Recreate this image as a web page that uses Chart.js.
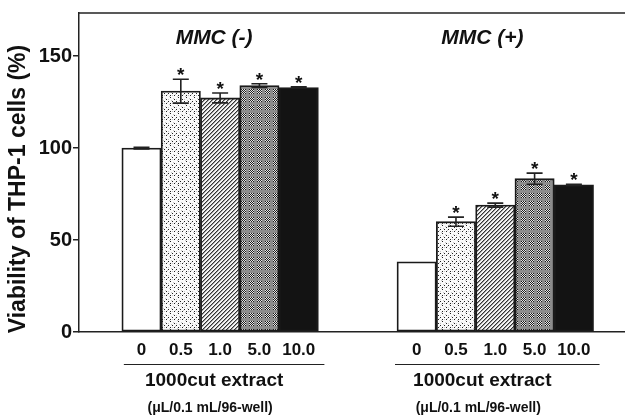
<!DOCTYPE html>
<html>
<head>
<meta charset="utf-8">
<script src="https://cdn.jsdelivr.net/npm/chart.js@4/dist/chart.umd.min.js"></script>
<style>
  html, body { margin: 0; padding: 0; background: #fff; }
  #wrap { width: 625px; height: 416px; }
</style>
</head>
<body>
<div id="wrap"><canvas id="myChart" width="625" height="416"></canvas></div>
<script>
'use strict';

// data
let doses = ['0', '0.5', '1.0', '5.0', '10.0'];
let groupNames = ['MMC (-)', 'MMC (+)'];
let viabilityMinus = [100, 131, 127.3, 134, 133];
let errorMinus = [0.5, 6.5, 2.7, 1, 0.3];
let viabilityPlus = [38.2, 60, 69, 83.4, 80];
let errorPlus = [0, 2.5, 1.1, 3, 0.3];
let starMinus = [false, true, true, true, true];
let starPlus = [false, true, true, true, true];
let yTicks = [0, 50, 100, 150];
let yTitle = 'Viability of THP-1 cells (%)';

let groupGap = 7;
let fontFam = 'Arial, "Liberation Sans", Helvetica, sans-serif';

function makePattern(kind) {
    let c = document.createElement('canvas');
    let g = c.getContext('2d');
    if (kind === 'dots') {
        c.width = 8; c.height = 8;
        g.fillStyle = '#fafafa'; g.fillRect(0, 0, 8, 8);
        g.fillStyle = '#c8c8c8';
        [[1, 0], [5, 2], [3, 4], [7, 6], [0, 3], [4, 7]].forEach(p => g.fillRect(p[0], p[1], 1, 1));
        g.fillStyle = '#222';
        [[2, 1], [6, 3], [0, 5], [4, 5], [2, 7], [6, 7]].forEach(p => g.fillRect(p[0], p[1], 1, 1));
    } else if (kind === 'hatch') {
        c.width = 4; c.height = 4;
        g.fillStyle = '#f4f4f4'; g.fillRect(0, 0, 4, 4);
        for (let i = 0; i < 4; i++) {
            g.fillStyle = '#333';
            g.fillRect(3 - i, i, 1, 1);
            g.fillStyle = '#999';
            g.fillRect((4 - i) % 4, i, 1, 1);
        }
    } else {
        c.width = 8; c.height = 8;
        g.fillStyle = '#8c8c8c'; g.fillRect(0, 0, 8, 8);
        for (let x = 1; x < 6; x++) {
            for (let y = 1; y < 6; y++) {
                g.fillStyle = (x + y) % 2 === 0 ? '#1c1c1c' : '#e8e8e8';
                g.fillRect(x, y, 1, 1);
            }
        }
    }
    return g.createPattern(c, 'repeat');
}

let fills = ['#ffffff', makePattern('dots'), makePattern('hatch'), makePattern('check'), '#131313'];

// build bar rows from the arrays
let points = [];
let colors = [];
let errs = [];
let stars = [];
[viabilityMinus, viabilityPlus].forEach(function (vals, g) {
    vals.forEach(function (v, i) {
        points.push({ x: i + g * groupGap, y: v });
        colors.push(fills[i]);
        errs.push(g === 0 ? errorMinus[i] : errorPlus[i]);
        stars.push(g === 0 ? starMinus[i] : starPlus[i]);
    });
});
let tickPos = points.map(p => p.x);

let extras = {
    id: 'extras',
    afterDatasetsDraw(chart) {
        let ctx = chart.ctx;
        let xs = chart.scales.x;
        let ys = chart.scales.y;
        let area = chart.chartArea;
        ctx.save();
        ctx.strokeStyle = '#222';
        ctx.fillStyle = '#111';
        // top frame line
        ctx.lineWidth = 1.5;
        ctx.beginPath();
        ctx.moveTo(area.left, area.top);
        ctx.lineTo(chart.width, area.top);
        ctx.stroke();
        // y axis title
        ctx.save();
        ctx.translate(19, 189);
        ctx.rotate(-Math.PI / 2);
        ctx.font = 'bold 23px ' + fontFam;
        ctx.textAlign = 'center';
        ctx.textBaseline = 'middle';
        ctx.fillText(yTitle, 0, 0);
        ctx.restore();
        // error bars and stars
        ctx.lineWidth = 1.6;
        points.forEach(function (p, k) {
            let cx = xs.getPixelForValue(p.x);
            let top = ys.getPixelForValue(p.y + errs[k]);
            let bot = ys.getPixelForValue(p.y - errs[k]);
            if (errs[k] > 0) {
                ctx.beginPath();
                ctx.moveTo(cx, top); ctx.lineTo(cx, bot);
                ctx.moveTo(cx - 8, top); ctx.lineTo(cx + 8, top);
                ctx.moveTo(cx - 8, bot); ctx.lineTo(cx + 8, bot);
                ctx.stroke();
            }
            if (stars[k]) {
                ctx.font = 'bold 19px ' + fontFam;
                ctx.textAlign = 'center';
                ctx.textBaseline = 'alphabetic';
                ctx.fillText('*', cx, top + 2);
            }
        });
        // group titles and labels underneath
        groupNames.forEach(function (name, g) {
            let left = xs.getPixelForValue(g * groupGap - 0.5);
            let right = xs.getPixelForValue(g * groupGap + doses.length - 0.5);
            let mid = (left + right) / 2 - 6 - g * 7;
            ctx.textAlign = 'center';
            ctx.textBaseline = 'middle';
            ctx.font = 'italic bold 21px ' + fontFam;
            ctx.fillText(name, mid, 38);
            ctx.lineWidth = 1.2;
            ctx.beginPath();
            ctx.moveTo(left + 2 - g * 4, 364.5);
            ctx.lineTo(right + 6, 364.5);
            ctx.stroke();
            ctx.font = 'bold 19px ' + fontFam;
            ctx.fillText('1000cut extract', mid, 381);
            ctx.font = 'bold 14px ' + fontFam;
            ctx.fillText('(\u03bcL/0.1 mL/96-well)', mid - 4, 408);
        });
        ctx.restore();
    }
};

let ctx = document.getElementById('myChart').getContext('2d');
let myChart = new Chart(ctx, {
    type: 'bar',
    data: {
        datasets: [{
            data: points,
            backgroundColor: colors,
            borderColor: '#1a1a1a',
            borderWidth: 1.8,
            borderSkipped: false,
            barPercentage: 1,
            categoryPercentage: 1
        }]
    },
    options: {
        responsive: false,
        animation: false,
        layout: { padding: { left: 0, right: 0, top: 13, bottom: 0 } },
        plugins: { legend: { display: false }, tooltip: { enabled: false } },
        scales: {
            x: {
                type: 'linear',
                min: -1.59,
                max: 12.3,
                offset: false,
                grid: { display: false, drawTicks: false },
                border: { display: true, color: '#222', width: 1.5 },
                afterBuildTicks: function (scale) {
                    scale.ticks = tickPos.map(v => ({ value: v }));
                },
                afterFit: function (scale) { scale.height = 84; },
                ticks: {
                    autoSkip: false,
                    maxRotation: 0,
                    padding: 8,
                    color: '#111',
                    font: { family: fontFam, size: 17, weight: 'bold' },
                    callback: function (v) {
                        return doses[v % groupGap];
                    }
                }
            },
            y: {
                min: 0,
                max: 173.5,
                grid: { drawOnChartArea: false, drawTicks: true, tickLength: 6, color: '#222', lineWidth: 1.5 },
                border: { display: true, color: '#222', width: 1.5 },
                afterBuildTicks: function (scale) {
                    scale.ticks = yTicks.map(v => ({ value: v }));
                },
                afterFit: function (scale) { scale.width = 79; },
                ticks: {
                    padding: 1,
                    color: '#111',
                    font: { family: fontFam, size: 20, weight: 'bold' }
                }
            }
        }
    },
    plugins: [extras]
});
</script>
</body>
</html>
